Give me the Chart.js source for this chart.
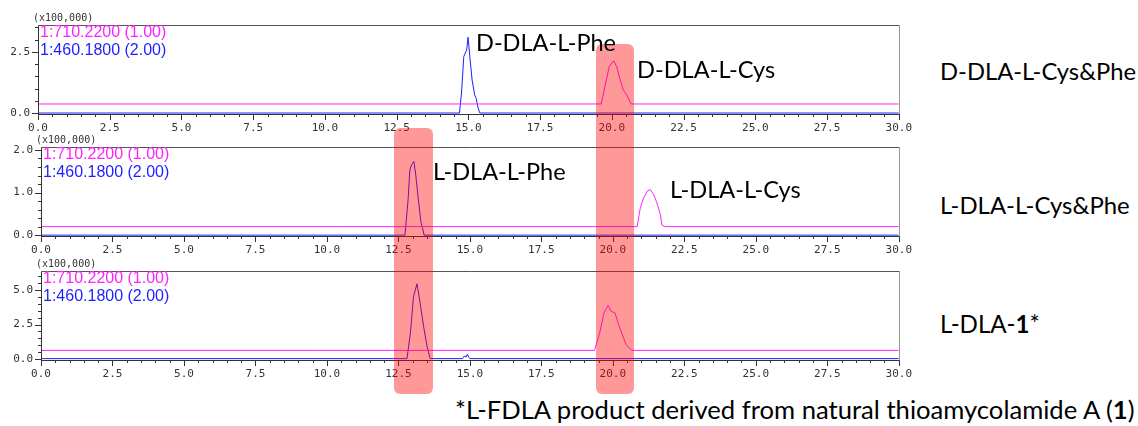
<!DOCTYPE html>
<html>
<head>
<meta charset="utf-8">
<script src="https://cdn.jsdelivr.net/npm/chart.js@4.4.0/dist/chart.umd.min.js"></script>
<style>
  body { margin: 0; background: #fff; }
  #wrap { position: relative; width: 1138px; height: 426px; overflow: hidden; }
  canvas { position: absolute; left: 0; }
  .hl { position: absolute; background: rgba(255, 0, 0, 0.4); border-radius: 6px; pointer-events: none; }
  .lbl { position: absolute; font-family: Lato, "Open Sans", sans-serif; color: #000; white-space: nowrap; line-height: 1; }
</style>
</head>
<body>
<div id="wrap">
  <canvas id="c1"></canvas>
  <canvas id="c2"></canvas>
  <canvas id="c3"></canvas>
</div>
<script>
// trace names (m/z channels)
const traceNames = ['1:710.2200 (1.00)', '1:460.1800 (2.00)'];
const yUnit = '(x100,000)';
const xTickLabels = ['0.0', '2.5', '5.0', '7.5', '10.0', '12.5', '15.0', '17.5', '20.0', '22.5', '25.0', '27.5', '30.0'];

// panel 1: D-DLA-L-Cys&Phe  [retention time, intensity x100,000]
const m710_p1 = [[0, 0.37], [19.63, 0.37], [19.77, 1.15], [19.91, 1.90], [20.06, 2.14], [20.17, 1.90], [20.29, 1.35], [20.40, 0.94], [20.52, 0.74], [20.67, 0.37], [30, 0.37]];
const m460_p1 = [[0, 0], [14.69, 0], [14.76, 0.82], [14.84, 2.31], [14.94, 2.58], [14.99, 3.10], [15.05, 2.31], [15.13, 1.35], [15.22, 0.74], [15.27, 0.61], [15.34, 0.20], [15.40, 0], [30, 0]];
const yLabels_p1 = [0, 2.5];

// panel 2: L-DLA-L-Cys&Phe
const m710_p2 = [[0, 0.20], [20.85, 0.20], [20.96, 0.64], [21.08, 0.88], [21.20, 1.03], [21.31, 1.07], [21.43, 0.95], [21.54, 0.76], [21.66, 0.49], [21.72, 0.23], [21.83, 0.20], [30, 0.20]];
const m460_p2 = [[0, 0], [12.73, 0], [12.84, 0.84], [12.90, 1.53], [12.96, 1.65], [13.04, 1.73], [13.10, 1.46], [13.19, 0.88], [13.29, 0.30], [13.34, 0.18], [13.40, 0], [30, 0]];
const yLabels_p2 = [0, 1, 2];

// panel 3: L-DLA-1
const m710_p3 = [[0, 0.64], [19.36, 0.64], [19.54, 1.9], [19.69, 3.33], [19.83, 3.88], [19.94, 3.45], [20.08, 3.33], [20.20, 2.5], [20.35, 1.67], [20.46, 1.07], [20.62, 0.71], [20.70, 0.64], [30, 0.64]];
const m460_p3 = [[0, 0.05], [12.80, 0.05], [12.92, 1.9], [13.03, 4.52], [13.15, 5.43], [13.26, 4.05], [13.38, 2.38], [13.50, 0.95], [13.61, 0.05], [14.74, 0.05], [14.81, 0.24], [14.87, 0.16], [14.91, 0.36], [14.96, 0.16], [15.0, 0.05], [30, 0.05]];
const yLabels_p3 = [0, 2.5, 5];

const MAGENTA = '#ff22ff';
const BLUE = '#1f1fff';

// ticks, frame, channel names and unit label
const framePlugin = {
  id: 'frame',
  afterDraw(chart) {
    const ctx = chart.ctx;
    const a = chart.chartArea;
    const xs = chart.scales.x, ys = chart.scales.y;
    ctx.save();
    ctx.lineWidth = 1;
    ctx.strokeStyle = '#333';
    ctx.beginPath();
    xs.ticks.forEach(t => {
      const px = Math.round(xs.getPixelForValue(t.value)) + 0.5;
      const len = t.label !== '' ? 6 : 3;
      ctx.moveTo(px, a.bottom);
      ctx.lineTo(px, a.bottom + len);
    });
    ys.ticks.forEach(t => {
      const py = Math.round(ys.getPixelForValue(t.value)) + 0.5;
      const len = t.label !== '' ? 6 : 3;
      ctx.moveTo(a.left, py);
      ctx.lineTo(a.left - len, py);
    });
    ctx.stroke();
    const l = Math.round(a.left) + 0.5, r = Math.round(a.right) + 0.5;
    const t = Math.round(a.top) + 0.5, b = Math.round(a.bottom) + 0.5;
    ctx.strokeStyle = '#555';
    ctx.beginPath(); ctx.moveTo(l, t); ctx.lineTo(r, t); ctx.stroke();
    ctx.strokeStyle = '#999';
    ctx.beginPath(); ctx.moveTo(r, t); ctx.lineTo(r, b); ctx.stroke();
    ctx.strokeStyle = '#333';
    ctx.beginPath(); ctx.moveTo(l, t); ctx.lineTo(l, b + 1); ctx.moveTo(l, b); ctx.lineTo(r, b); ctx.stroke();

    ctx.font = '10px "DejaVu Sans Mono"';
    ctx.fillStyle = '#333';
    ctx.textBaseline = 'middle';
    ctx.fillText(yUnit, a.left - 5, a.top - 7);

    ctx.font = '16px "Liberation Sans"';
    chart.data.datasets.forEach((ds, i) => {
      ctx.fillStyle = ds.borderColor;
      ctx.fillText(ds.label, a.left + 2, a.top + 8 + i * 18);
    });
    ctx.restore();
  }
};

function makePanel(id, area, yMin, yMax, yStep, yLabels, m710, m460) {
  const canvas = document.getElementById(id);
  const W = 920;
  canvas.width = W;
  canvas.height = area.bottom - area.top + 40;
  canvas.style.top = (area.top - 15) + 'px';
  const tickFont = { family: 'DejaVu Sans Mono', size: 11 };
  return new Chart(canvas, {
    type: 'line',
    data: {
      datasets: [
        { label: traceNames[0], data: m710.map(p => ({ x: p[0], y: p[1] })), borderColor: MAGENTA, borderWidth: 1 },
        { label: traceNames[1], data: m460.map(p => ({ x: p[0], y: p[1] })), borderColor: BLUE, borderWidth: 1 }
      ]
    },
    options: {
      responsive: false,
      animation: false,
      devicePixelRatio: 1,
      layout: { padding: { top: 15, right: W - area.right, left: 0, bottom: 0 } },
      elements: { point: { radius: 0 }, line: { tension: 0 } },
      plugins: { legend: { display: false }, tooltip: { enabled: false } },
      scales: {
        x: {
          type: 'linear', min: 0, max: 30,
          grid: { display: false, drawTicks: false },
          border: { display: false },
          afterFit: s => { s.height = 25; },
          ticks: {
            stepSize: 0.5, autoSkip: false, maxRotation: 0, padding: 8,
            font: tickFont, color: '#333',
            callback: v => {
              const lab = v.toFixed(1);
              return xTickLabels.includes(lab) ? lab : '';
            }
          }
        },
        y: {
          min: yMin, max: yMax,
          grid: { display: false, drawTicks: false },
          border: { display: false },
          afterFit: s => { s.width = area.left; },
          ticks: {
            stepSize: yStep, includeBounds: false, autoSkip: false, padding: 8,
            font: tickFont, color: '#333',
            callback: v => yLabels.some(k => Math.abs(k - v) < 1e-6) ? v.toFixed(1) : ''
          }
        }
      }
    },
    plugins: [framePlugin]
  });
}

makePanel('c1', { left: 38, right: 901, top: 25, bottom: 114 }, -0.04, 3.6, 0.5, yLabels_p1, m710_p1, m460_p1);
makePanel('c2', { left: 41, right: 903, top: 147, bottom: 236 }, -0.02, 2.07, 0.2, yLabels_p2, m710_p2, m460_p2);
makePanel('c3', { left: 41, right: 902, top: 271, bottom: 360 }, -0.05, 6.35, 0.5, yLabels_p3, m710_p3, m460_p3);

// highlight boxes and annotations
const wrap = document.getElementById('wrap');
[[394, 128, 39, 266], [596, 44, 38, 350]].forEach(b => {
  const d = document.createElement('div');
  d.className = 'hl';
  d.style.left = b[0] + 'px'; d.style.top = b[1] + 'px';
  d.style.width = b[2] + 'px'; d.style.height = b[3] + 'px';
  wrap.appendChild(d);
});

const notes = [
  ['D-DLA-L-Phe', 476, 43, 140],
  ['D-DLA-L-Cys', 637, 70, 138],
  ['L-DLA-L-Phe', 433, 172, 133],
  ['L-DLA-L-Cys', 670, 190, 131],
  ['D-DLA-L-Cys&amp;Phe', 940, 72, 196],
  ['L-DLA-L-Cys&amp;Phe', 940, 205, 190],
  ['L-DLA-<b>1</b>*', 940, 324, 100],
  ['*L-FDLA product derived from natural thioamycolamide A (<b>1</b>)', 455, 410, 680]
];
notes.forEach(n => {
  const d = document.createElement('div');
  d.className = 'lbl';
  d.innerHTML = n[0];
  d.style.fontSize = '20px';
  wrap.appendChild(d);
  const fs = 20 * n[3] / d.offsetWidth;
  d.style.fontSize = fs.toFixed(2) + 'px';
  d.style.left = n[1] + 'px';
  d.style.top = (n[2] - d.offsetHeight / 2) + 'px';
});
</script>
</body>
</html>
